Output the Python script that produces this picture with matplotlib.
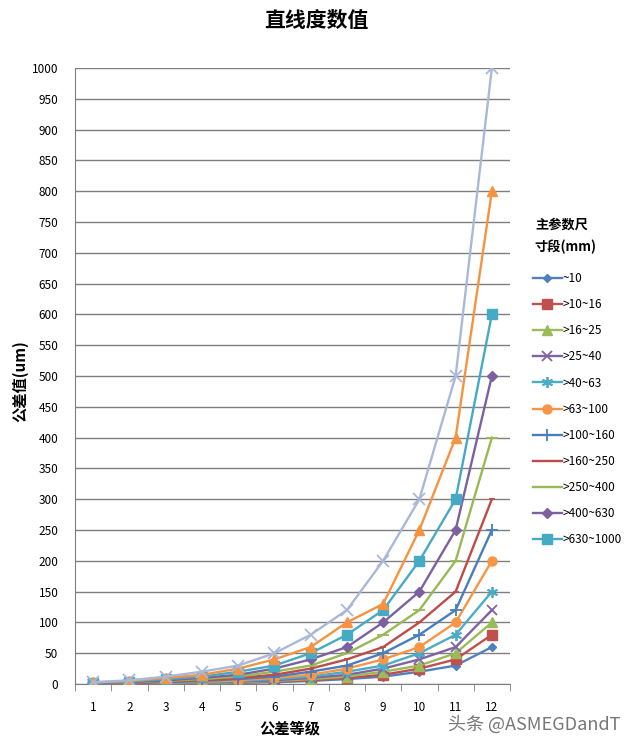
import matplotlib
matplotlib.use("Agg")
import matplotlib.pyplot as plt
from matplotlib.lines import Line2D

plt.rcParams['font.family'] = ['Noto Sans CJK SC', 'DejaVu Sans']

# tolerance grades and straightness values (um) per size range
grades = [1, 2, 3, 4, 5, 6, 7, 8, 9, 10, 11, 12]
labels = ['~10', '>10~16', '>16~25', '>25~40', '>40~63', '>63~100', '>100~160',
          '>160~250', '>250~400', '>400~630', '>630~1000', '>1000~1600', '>1600~2500']
s_10 = [0.2, 0.4, 0.8, 1.2, 2, 3, 5, 8, 12, 20, 30, 60]
s_16 = [0.25, 0.5, 1, 1.5, 2.5, 4, 6, 10, 15, 25, 40, 80]
s_25 = [0.3, 0.6, 1.2, 2, 3, 5, 8, 12, 20, 30, 50, 100]
s_40 = [0.4, 0.8, 1.5, 2.5, 4, 6, 10, 15, 25, 40, 60, 120]
s_63 = [0.5, 1, 2, 3, 5, 8, 12, 20, 30, 50, 80, 150]
s_100 = [0.6, 1.2, 2.5, 4, 6, 10, 15, 25, 40, 60, 100, 200]
s_160 = [0.8, 1.5, 3, 5, 8, 12, 20, 30, 50, 80, 120, 250]
s_250 = [1, 2, 4, 6, 10, 15, 25, 40, 60, 100, 150, 300]
s_400 = [1.2, 2.5, 5, 8, 12, 20, 30, 50, 80, 120, 200, 400]
s_630 = [1.5, 3, 6, 10, 15, 25, 40, 60, 100, 150, 250, 500]
s_1000 = [2, 4, 8, 12, 20, 30, 50, 80, 120, 200, 300, 600]
s_1600 = [2.5, 5, 10, 15, 25, 40, 60, 100, 130, 250, 400, 800]
s_2500 = [3, 6, 12, 20, 30, 50, 80, 120, 200, 300, 500, 1000]
series = [s_10, s_16, s_25, s_40, s_63, s_100, s_160, s_250, s_400, s_630, s_1000, s_1600, s_2500]

colors = ['#4F81BD', '#C0504D', '#9BBB59', '#8064A2', '#4BACC6', '#F79646', '#4A7EBB',
          '#BE4B48', '#98B954', '#7D60A0', '#46AAC5', '#F69240', '#A9B8D9']
markers = ['D', 's', '^', 'x', (6, 2, 0), 'o', '+', '_', '_', 'D', 's', '^', 'x']
msizes = [4.5, 6.5, 6.5, 7, 8, 6.5, 8, 5, 8, 5, 6.5, 6.5, 8]


def mew(m):
    return 1.3 if m in ('x', '+', '_') or isinstance(m, tuple) else 1


fig = plt.figure(figsize=(6.33, 7.47), dpi=100)
ax = fig.add_axes([0.1185, 0.0843, 0.6872, 0.8247])

for i, vals in enumerate(series):
    ax.plot(grades, vals, color=colors[i], lw=1.7, marker=markers[i], ms=msizes[i],
            mew=mew(markers[i]), zorder=3)

ax.set_xlim(0.5, 12.5)
ax.set_ylim(0, 1000)
ax.set_yticks(range(0, 1001, 50))
ax.set_xticks(grades)
ax.set_xticks([g + 0.5 for g in [0] + grades], minor=True)
ax.grid(axis='y', color='#7f7f7f', lw=1)
ax.set_axisbelow(True)
for s in ['top', 'right']:
    ax.spines[s].set_visible(False)
ax.spines['left'].set_color('#7f7f7f')
ax.spines['bottom'].set_color('#7f7f7f')
ax.tick_params(axis='y', length=0, pad=12, labelsize=8.5)
ax.tick_params(axis='x', which='major', length=0, pad=12, labelsize=8.5)
ax.tick_params(axis='x', which='minor', length=5, color='#7f7f7f')

fig.text(0.5, 0.972, '直线度数值', ha='center', va='center', fontsize=15, fontweight='bold')
fig.text(0.032, 0.49, '公差值(um)', rotation=90, ha='center', va='center', fontsize=11,
         fontweight='bold')
fig.text(0.458, 0.025, '公差等级', ha='center', va='center', fontsize=11, fontweight='bold')
fig.text(0.845, 0.684, '主参数尺\n寸段(mm)', ha='left', va='center', fontsize=9.5,
         fontweight='bold', linespacing=1.7)
fig.text(0.98, 0.03, '头条 @ASMEGDandT', ha='right', va='center', fontsize=13,
         color='#777777')

handles = [Line2D([], [], color=colors[i], lw=1.7, marker=markers[i], ms=msizes[i],
                  mew=mew(markers[i]))
           for i in range(11)]
fig.legend(handles, labels[:11], loc='upper left', bbox_to_anchor=(0.835, 0.642),
           frameon=False, fontsize=8.5, handlelength=2.4, handletextpad=0.1,
           labelspacing=1.11, borderaxespad=0)

fig.savefig('out.png', dpi=100)
